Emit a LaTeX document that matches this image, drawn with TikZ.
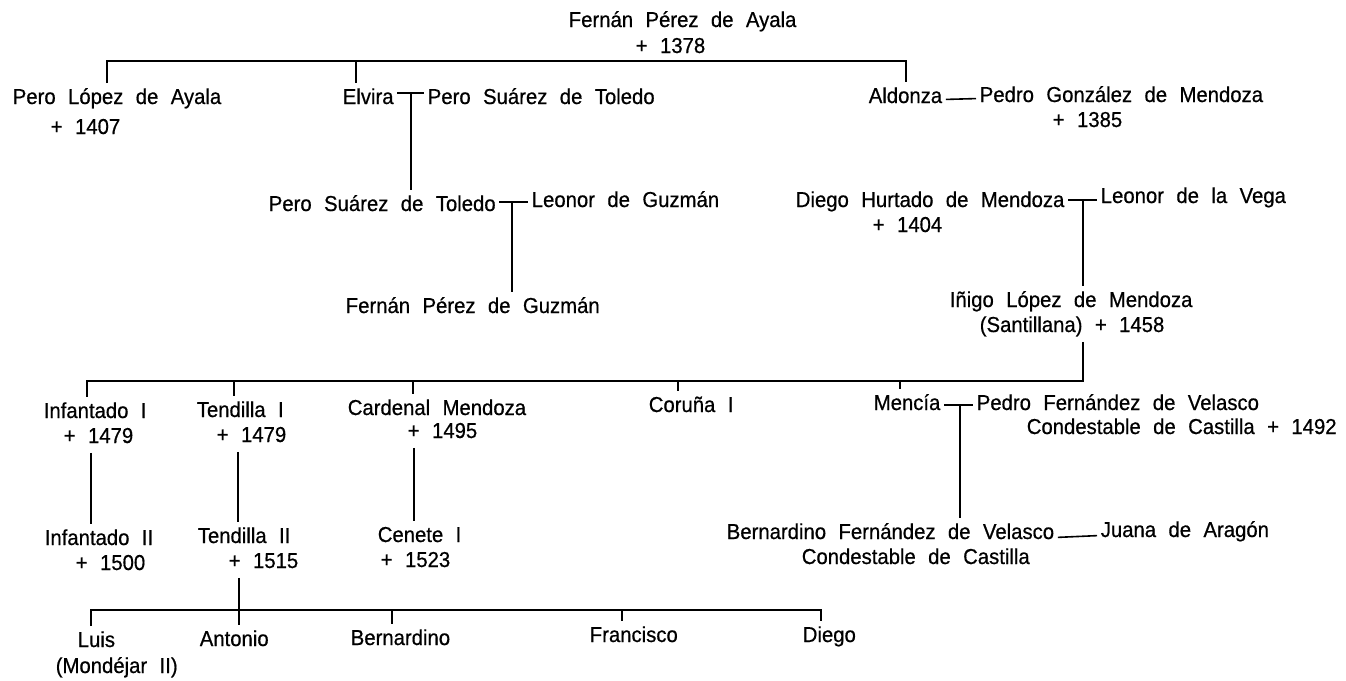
\documentclass[tikz,border=0pt]{standalone}
\usepackage{fontspec}
\setmainfont{Liberation Sans}[WordSpace=2.2, FakeBold=0.6, FakeStretch=0.94]
\tikzset{
    person/.style={anchor=base west, inner xsep=0pt, inner ysep=2pt,
        text height=8pt, text depth=2.5pt, font=\fontsize{10.8}{12}\selectfont},
    tie/.style={shorten <=1.5pt, shorten >=1.5pt}
}
\begin{document}
\begin{tikzpicture}[x=0.5pt, y=-0.5pt, line width=0.8pt]
    \useasboundingbox (0,0) rectangle (1346,681);
    % first generations
    \node[person] (fpayala) at (568,27) {Fernán Pérez de Ayala};
    \node[person] (fpayala-d) at (635,53) {+ 1378};
    \node[person] (playala) at (12,104) {Pero López de Ayala};
    \node[person] (playala-d) at (50,134) {+ 1407};
    \node[person] (elvira) at (342,104) {Elvira};
    \node[person] (pstoledo) at (427,104) {Pero Suárez de Toledo};
    \node[person] (aldonza) at (868,103) {Aldonza};
    \node[person] (pgmendoza) at (979,102) {Pedro González de Mendoza};
    \node[person] (pgmendoza-d) at (1052,127) {+ 1385};
    \node[person] (pstoledo2) at (268,211) {Pero Suárez de Toledo};
    \node[person] (lguzman) at (531,207) {Leonor de Guzmán};
    \node[person] (dhmendoza) at (795,207) {Diego Hurtado de Mendoza};
    \node[person] (dhmendoza-d) at (872,232) {+ 1404};
    \node[person] (lvega) at (1100,203) {Leonor de la Vega};
    \node[person] (fpguzman) at (345,313) {Fernán Pérez de Guzmán};
    \node[person] (ilmendoza) at (949,307) {Iñigo López de Mendoza};
    \node[person] (ilmendoza-d) at (979,332) {(Santillana) + 1458};
    % children of Santillana
    \node[person] (inf1) at (43,418) {Infantado I};
    \node[person] (inf1-d) at (63,443) {+ 1479};
    \node[person] (ten1) at (196,417) {Tendilla I};
    \node[person] (ten1-d) at (216,442) {+ 1479};
    \node[person] (card) at (347,415) {Cardenal Mendoza};
    \node[person] (card-d) at (407,438) {+ 1495};
    \node[person] (coruna) at (648,412) {Coruña I};
    \node[person] (mencia) at (873,410) {Mencía};
    \node[person] (pfvelasco) at (976,410) {Pedro Fernández de Velasco};
    \node[person] (pfvelasco-d) at (1026,434) {Condestable de Castilla + 1492};
    \node[person] (inf2) at (44,545) {Infantado II};
    \node[person] (inf2-d) at (75,570) {+ 1500};
    \node[person] (ten2) at (197,543) {Tendilla II};
    \node[person] (ten2-d) at (228,568) {+ 1515};
    \node[person] (cenete) at (377,542) {Cenete I};
    \node[person] (cenete-d) at (380,567) {+ 1523};
    \node[person] (bfvelasco) at (726,539) {Bernardino Fernández de Velasco};
    \node[person] (bfvelasco-d) at (801,564) {Condestable de Castilla};
    \node[person] (juana) at (1100,537) {Juana de Aragón};
    % children of Tendilla II
    \node[person] (luis) at (77,647) {Luis};
    \node[person] (luis-d) at (55,673) {(Mondéjar II)};
    \node[person] (antonio) at (199,646) {Antonio};
    \node[person] (bernardino) at (350,645) {Bernardino};
    \node[person] (francisco) at (589,642) {Francisco};
    \node[person] (diego) at (802,642) {Diego};

    % bars
    \coordinate (top-l) at (107,61);
    \coordinate (top-e) at (356,61);
    \coordinate (top-r) at (906,61);
    \draw 
        (top-l |- playala.north)--(top-l)--(top-r)--(top-r |- aldonza.north);
    \draw 
        (top-e)--(top-e |- elvira.north);
    \coordinate (mid-l) at (87,381);
    \coordinate (mid-r) at (1083,381);
    \draw 
        (mid-r |- ilmendoza-d.south)--(mid-r)--(mid-l)--(mid-l |- inf1.north);
    \foreach \n/\x in {ten1/234, card/413, coruna/678, mencia/900} {
        \coordinate (mid-\n) at (\x,381);
        \draw (mid-\n)--(mid-\n |- \n.north);
    }
    \coordinate (bot-l) at (91,610);
    \coordinate (bot-r) at (821,610);
    \draw 
        (bot-l |- luis.north)--(bot-l)--(bot-r)--(bot-r |- diego.north);
    \foreach \n/\x in {bernardino/392, francisco/622} {
        \coordinate (bot-\n) at (\x,610);
        \draw (bot-\n)--(bot-\n |- \n.north);
    }

    % marriages
    \coordinate (elvira-t) at (411,93);
    \draw 
        [tie] (elvira.east |- elvira-t)--(pstoledo.west |- elvira-t);
    \draw 
        (elvira-t)--(elvira-t |- pstoledo2.north);
    \draw 
        [tie] ([yshift=-1pt]aldonza.east)--([yshift=-1pt]pgmendoza.west);
    \coordinate (pstoledo2-t) at (512,202);
    \draw 
        [tie] (pstoledo2.east |- pstoledo2-t)--(lguzman.west |- pstoledo2-t);
    \draw 
        (pstoledo2-t)--(pstoledo2-t |- fpguzman.north);
    \coordinate (dhmendoza-t) at (1083,200);
    \draw 
        [tie] (dhmendoza.east |- dhmendoza-t)--(lvega.west |- dhmendoza-t);
    \draw 
        (dhmendoza-t)--(dhmendoza-t |- ilmendoza.north);
    \coordinate (mencia-t) at (960,405);
    \draw 
        [tie] (mencia.east |- mencia-t)--(pfvelasco.west |- mencia-t);
    \draw 
        (mencia-t)--(mencia-t |- bfvelasco.north);
    \draw 
        [tie] ([yshift=-2pt]bfvelasco.east)--([yshift=-2pt]juana.west);

    % descent lines
    \coordinate (inf-x) at (91,0);
    \coordinate (ten-x) at (238,0);
    \coordinate (card-x) at (414,0);
    \coordinate (ant-x) at (239,0);
    \draw 
        (inf-x |- inf1-d.south)--(inf-x |- inf2.north);
    \draw 
        (ten-x |- ten1-d.south)--(ten-x |- ten2.north);
    \draw 
        (card-x |- card-d.south)--(card-x |- cenete.north);
    \draw 
        (ant-x |- ten2-d.south)--(ant-x |- antonio.north);
\end{tikzpicture}
\end{document}
